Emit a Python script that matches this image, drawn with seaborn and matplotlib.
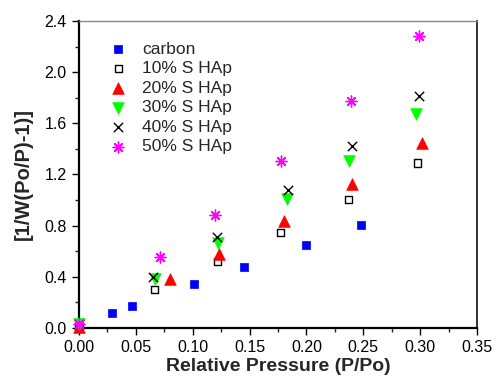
import matplotlib
matplotlib.use('Agg')
from matplotlib import pyplot as plt
from matplotlib.ticker import MultipleLocator, FormatStrFormatter
import seaborn as sns
import pandas as pd

# data
series_names = ['carbon', '10% S HAp', '20% S HAp', '30% S HAp', '40% S HAp', '50% S HAp']

carbon_x = [0.0, 0.029, 0.047, 0.101, 0.145, 0.200, 0.248]
carbon_y = [0.02, 0.115, 0.175, 0.344, 0.479, 0.651, 0.808]

s10_x = [0.0, 0.066, 0.122, 0.177, 0.237, 0.298]
s10_y = [0.02, 0.30, 0.518, 0.743, 1.008, 1.29]

s20_x = [0.0, 0.080, 0.123, 0.180, 0.240, 0.302]
s20_y = [0.01, 0.383, 0.576, 0.834, 1.128, 1.449]

s30_x = [0.0, 0.067, 0.122, 0.183, 0.237, 0.296]
s30_y = [0.03, 0.383, 0.667, 1.008, 1.308, 1.675]

s40_x = [0.0, 0.065, 0.121, 0.184, 0.240, 0.299]
s40_y = [0.03, 0.396, 0.709, 1.081, 1.423, 1.816]

s50_x = [0.0, 0.0715, 0.1196, 0.1776, 0.2389, 0.2992]
s50_y = [0.03, 0.553, 0.883, 1.303, 1.777, 2.28]

xs = [carbon_x, s10_x, s20_x, s30_x, s40_x, s50_x]
ys = [carbon_y, s10_y, s20_y, s30_y, s40_y, s50_y]

styles = {
	'carbon': dict(marker='s', color='#0000ff', edgecolor='#0000ff', s=36, linewidth=0.5),
	'10% S HAp': dict(marker='s', color='none', edgecolor='black', s=26, linewidth=1.0),
	'20% S HAp': dict(marker='^', color='#ff0000', edgecolor='#ff0000', s=70, linewidth=0.5),
	'30% S HAp': dict(marker='v', color='#00ff00', edgecolor='#00ff00', s=70, linewidth=0.5),
	'40% S HAp': dict(marker='x', color='black', s=45, linewidth=1.0),
	'50% S HAp': dict(marker=(8, 2, 0), color='#ff00ff', s=60, linewidth=1.0),
}

frames = []
for name, x, y in zip(series_names, xs, ys):
	frames.append(pd.DataFrame({'pressure': x, 'value': y, 'sample': name}))
data = pd.concat(frames, ignore_index=True)

sns.set_style('ticks')
plt.rcParams['font.family'] = ['Liberation Sans', 'DejaVu Sans']

fig = plt.figure(figsize=(4.94, 3.76), dpi=100)
ax = fig.add_axes([0.160, 0.1277, 0.8056, 0.8165])

for name in series_names:
	sub = data[data['sample'] == name]
	sns.scatterplot(x='pressure', y='value', data=sub, ax=ax, label=name, clip_on=False, zorder=3,
					**styles[name])

ax.set_xlim(0, 0.35)
ax.set_ylim(0, 2.4)
ax.xaxis.set_major_locator(MultipleLocator(0.05))
ax.xaxis.set_minor_locator(MultipleLocator(0.025))
ax.yaxis.set_major_locator(MultipleLocator(0.4))
ax.yaxis.set_minor_locator(MultipleLocator(0.2))
ax.xaxis.set_major_formatter(FormatStrFormatter('%.2f'))
ax.yaxis.set_major_formatter(FormatStrFormatter('%.1f'))
ax.tick_params(which='major', direction='out', length=5, width=1.0, labelsize=11.5, colors='black', pad=4)
ax.tick_params(which='minor', direction='out', length=3, width=1.0)

for side in ['left', 'bottom']:
	ax.spines[side].set_linewidth(1.6)
	ax.spines[side].set_color('black')
ax.spines['top'].set_linewidth(1.0)
ax.spines['top'].set_color('#888888')
ax.spines['right'].set_linewidth(1.3)
ax.spines['right'].set_color('#222222')

ax.set_xlabel('Relative Pressure (P/Po)', fontsize=14, fontweight='bold', labelpad=2)
ax.set_ylabel('[1/W(Po/P)-1)]', fontsize=14.5, fontweight='bold', labelpad=8)

leg = ax.legend(loc='upper left', bbox_to_anchor=(0.037, 0.955), frameon=False, fontsize=12.5,
				handletextpad=0.4, labelspacing=0.25, borderaxespad=0)

fig.savefig('out.png', dpi=100)
